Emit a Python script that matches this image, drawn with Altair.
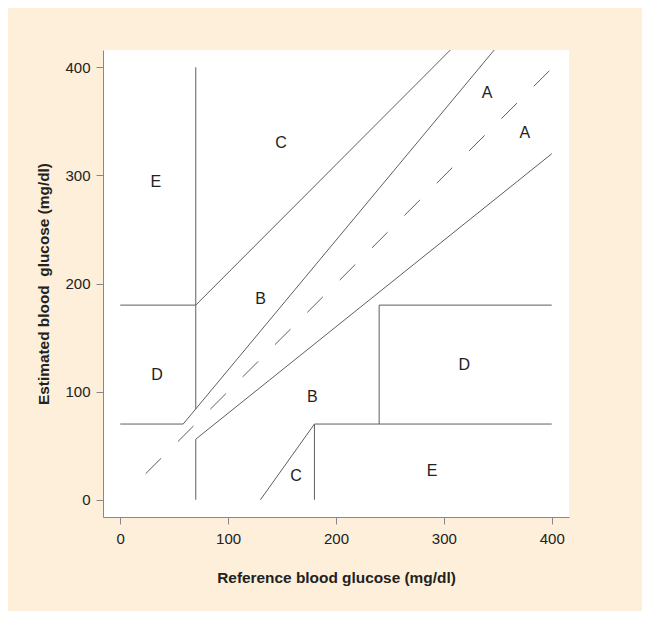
import altair as alt
import pandas as pd

# Clarke error grid boundary segments (mg/dl)
seg_x1 = [0, 58.33, 70, 70, 0, 70, 70, 240, 240, 180, 130, 180]
seg_y1 = [70, 70, 56, 84, 180, 180, 0, 70, 180, 70, 0, 0]
seg_x2 = [58.33, 400, 400, 70, 70, 400, 70, 240, 400, 400, 180, 180]
seg_y2 = [70, 480, 320, 400, 180, 510, 56, 180, 180, 70, 70, 70]

# identity (dashed) line
diag_x = [23.5, 399]
diag_y = [24, 398]

# zone labels
zone_label = ["A", "A", "B", "B", "C", "C", "D", "D", "E", "E"]
zone_x = [340, 375, 130, 178, 149, 163, 34, 319, 33, 289]
zone_y = [376, 339, 186, 95, 330, 22, 115, 125, 294, 27]

ticks = [0, 100, 200, 300, 400]

segs = pd.DataFrame({"x": seg_x1, "y": seg_y1, "x2": seg_x2, "y2": seg_y2})
diag = pd.DataFrame({"x": [diag_x[0]], "y": [diag_y[0]], "x2": [diag_x[1]], "y2": [diag_y[1]]})
labels = pd.DataFrame({"label": zone_label, "x": zone_x, "y": zone_y})

FONT = "Liberation Sans"
xscale = alt.Scale(domain=[-16, 416], nice=False, zero=False)
yscale = alt.Scale(domain=[-16, 416], nice=False, zero=False)

xaxis = alt.Axis(title="Reference blood glucose (mg/dl)", values=ticks, grid=False,
                 tickSize=7, labelPadding=7, titlePadding=24)
yaxis = alt.Axis(title="Estimated blood\u00a0 glucose (mg/dl)", values=ticks, grid=False,
                 tickSize=7, labelPadding=6, titlePadding=13)

lines = alt.Chart(segs).mark_rule(color="#5e5e5e", strokeWidth=1, clip=True).encode(
    x=alt.X("x:Q", scale=xscale, axis=xaxis),
    y=alt.Y("y:Q", scale=yscale, axis=yaxis),
    x2="x2:Q",
    y2="y2:Q",
)

dashed = alt.Chart(diag).mark_rule(color="#5e5e5e", strokeWidth=1, strokeDash=[22, 23.7], clip=True).encode(
    x=alt.X("x:Q", scale=xscale),
    y=alt.Y("y:Q", scale=yscale),
    x2="x2:Q",
    y2="y2:Q",
)

text = alt.Chart(labels).mark_text(font=FONT, fontSize=16, color="#222222",
                                   align="center", baseline="middle").encode(
    x=alt.X("x:Q", scale=xscale),
    y=alt.Y("y:Q", scale=yscale),
    text="label:N",
)

chart = alt.layer(lines, dashed, text).properties(
    width=466,
    height=467,
    background="#FDEFD9",
    padding={"left": 95, "top": 42, "right": 73, "bottom": 94},
    autosize=alt.AutoSizeParams(type="none"),
).configure_view(
    fill="white", strokeWidth=0
).configure_axis(
    domainColor="#888888", tickColor="#888888", domainWidth=1, tickWidth=1,
    labelFont=FONT, labelFontSize=15, labelColor="#222222",
    titleFont=FONT, titleFontSize=15.4, titleFontWeight="bold", titleColor="#222222",
)

chart.save("out.html", embed_options={"renderer": "svg", "actions": False})
